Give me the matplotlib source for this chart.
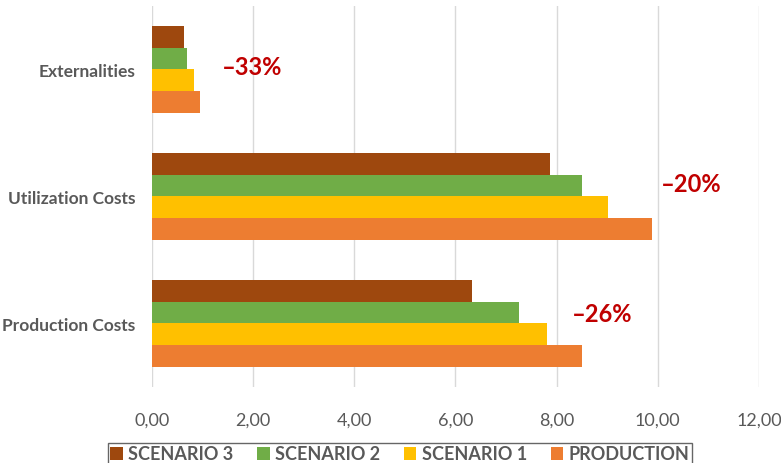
import matplotlib
matplotlib.use("Agg")
import matplotlib.pyplot as plt
import numpy as np

plt.rcParams['font.family'] = ['Lato', 'DejaVu Sans']

categories = ["Production Costs", "Utilization Costs", "Externalities"]
series_names = ["SCENARIO 3", "SCENARIO 2", "SCENARIO 1", "PRODUCTION"]
scenario3 = [6.32, 7.87, 0.64]
scenario2 = [7.26, 8.51, 0.69]
scenario1 = [7.80, 9.01, 0.83]
production = [8.51, 9.89, 0.95]
reduction_labels = ["–26%", "–20%", "–33%"]
x_ticks = [0, 2, 4, 6, 8, 10, 12]
x_tick_labels = ["0,00", "2,00", "4,00", "6,00", "8,00", "10,00", "12,00"]

colors = ["#9E480E", "#70AD47", "#FFC000", "#ED7D31"]
text_gray = "#595959"

fig = plt.figure(figsize=(7.81, 4.64), dpi=100)
ax = fig.add_axes([0.1946, 0.1638, 0.7772, 0.8212])

y = np.arange(len(categories))
h = 0.171
series = [scenario3, scenario2, scenario1, production]
offsets = [1.5 * h, 0.5 * h, -0.5 * h, -1.5 * h]
handles = []
for vals, off, c, name in zip(series, offsets, colors, series_names):
    b = ax.barh(y + off, vals, height=h, color=c, label=name, zorder=3)
    handles.append(b)

ax.set_xlim(0, 12)
ax.set_ylim(-0.5, 2.5)
ax.set_xticks(x_ticks)
ax.set_xticklabels(x_tick_labels, fontsize=13, color=text_gray)
ax.set_yticks(y)
ax.set_yticklabels(categories, fontsize=12.5, fontweight='bold', color=text_gray)
ax.tick_params(axis='both', length=0)
ax.tick_params(axis='x', pad=18)
ax.tick_params(axis='y', pad=12)
ax.grid(axis='x', color="#D9D9D9", linewidth=1, zorder=0)
for s in ax.spines.values():
    s.set_visible(False)

ann_pos = [(8.90, 0.075), (10.66, 1.10), (1.98, 2.02)]
for (ax_x, ax_y), lab in zip(ann_pos, reduction_labels):
    ax.text(ax_x, ax_y, lab, color="#C00000", fontsize=17, fontweight='bold',
            ha='center', va='center', zorder=4)

leg = fig.legend(handles=handles, labels=series_names, loc='center',
                 bbox_to_anchor=(400 / 781, 1 - 455 / 464), ncol=4,
                 frameon=True, fancybox=False, edgecolor="#404040",
                 handlelength=0.7, handleheight=0.7, handletextpad=0.3,
                 columnspacing=1.3, borderpad=0.15,
                 prop={'weight': 'bold', 'size': 13})
leg.get_frame().set_linewidth(1.0)
for t in leg.get_texts():
    t.set_color(text_gray)

fig.savefig("out.png", dpi=100)
